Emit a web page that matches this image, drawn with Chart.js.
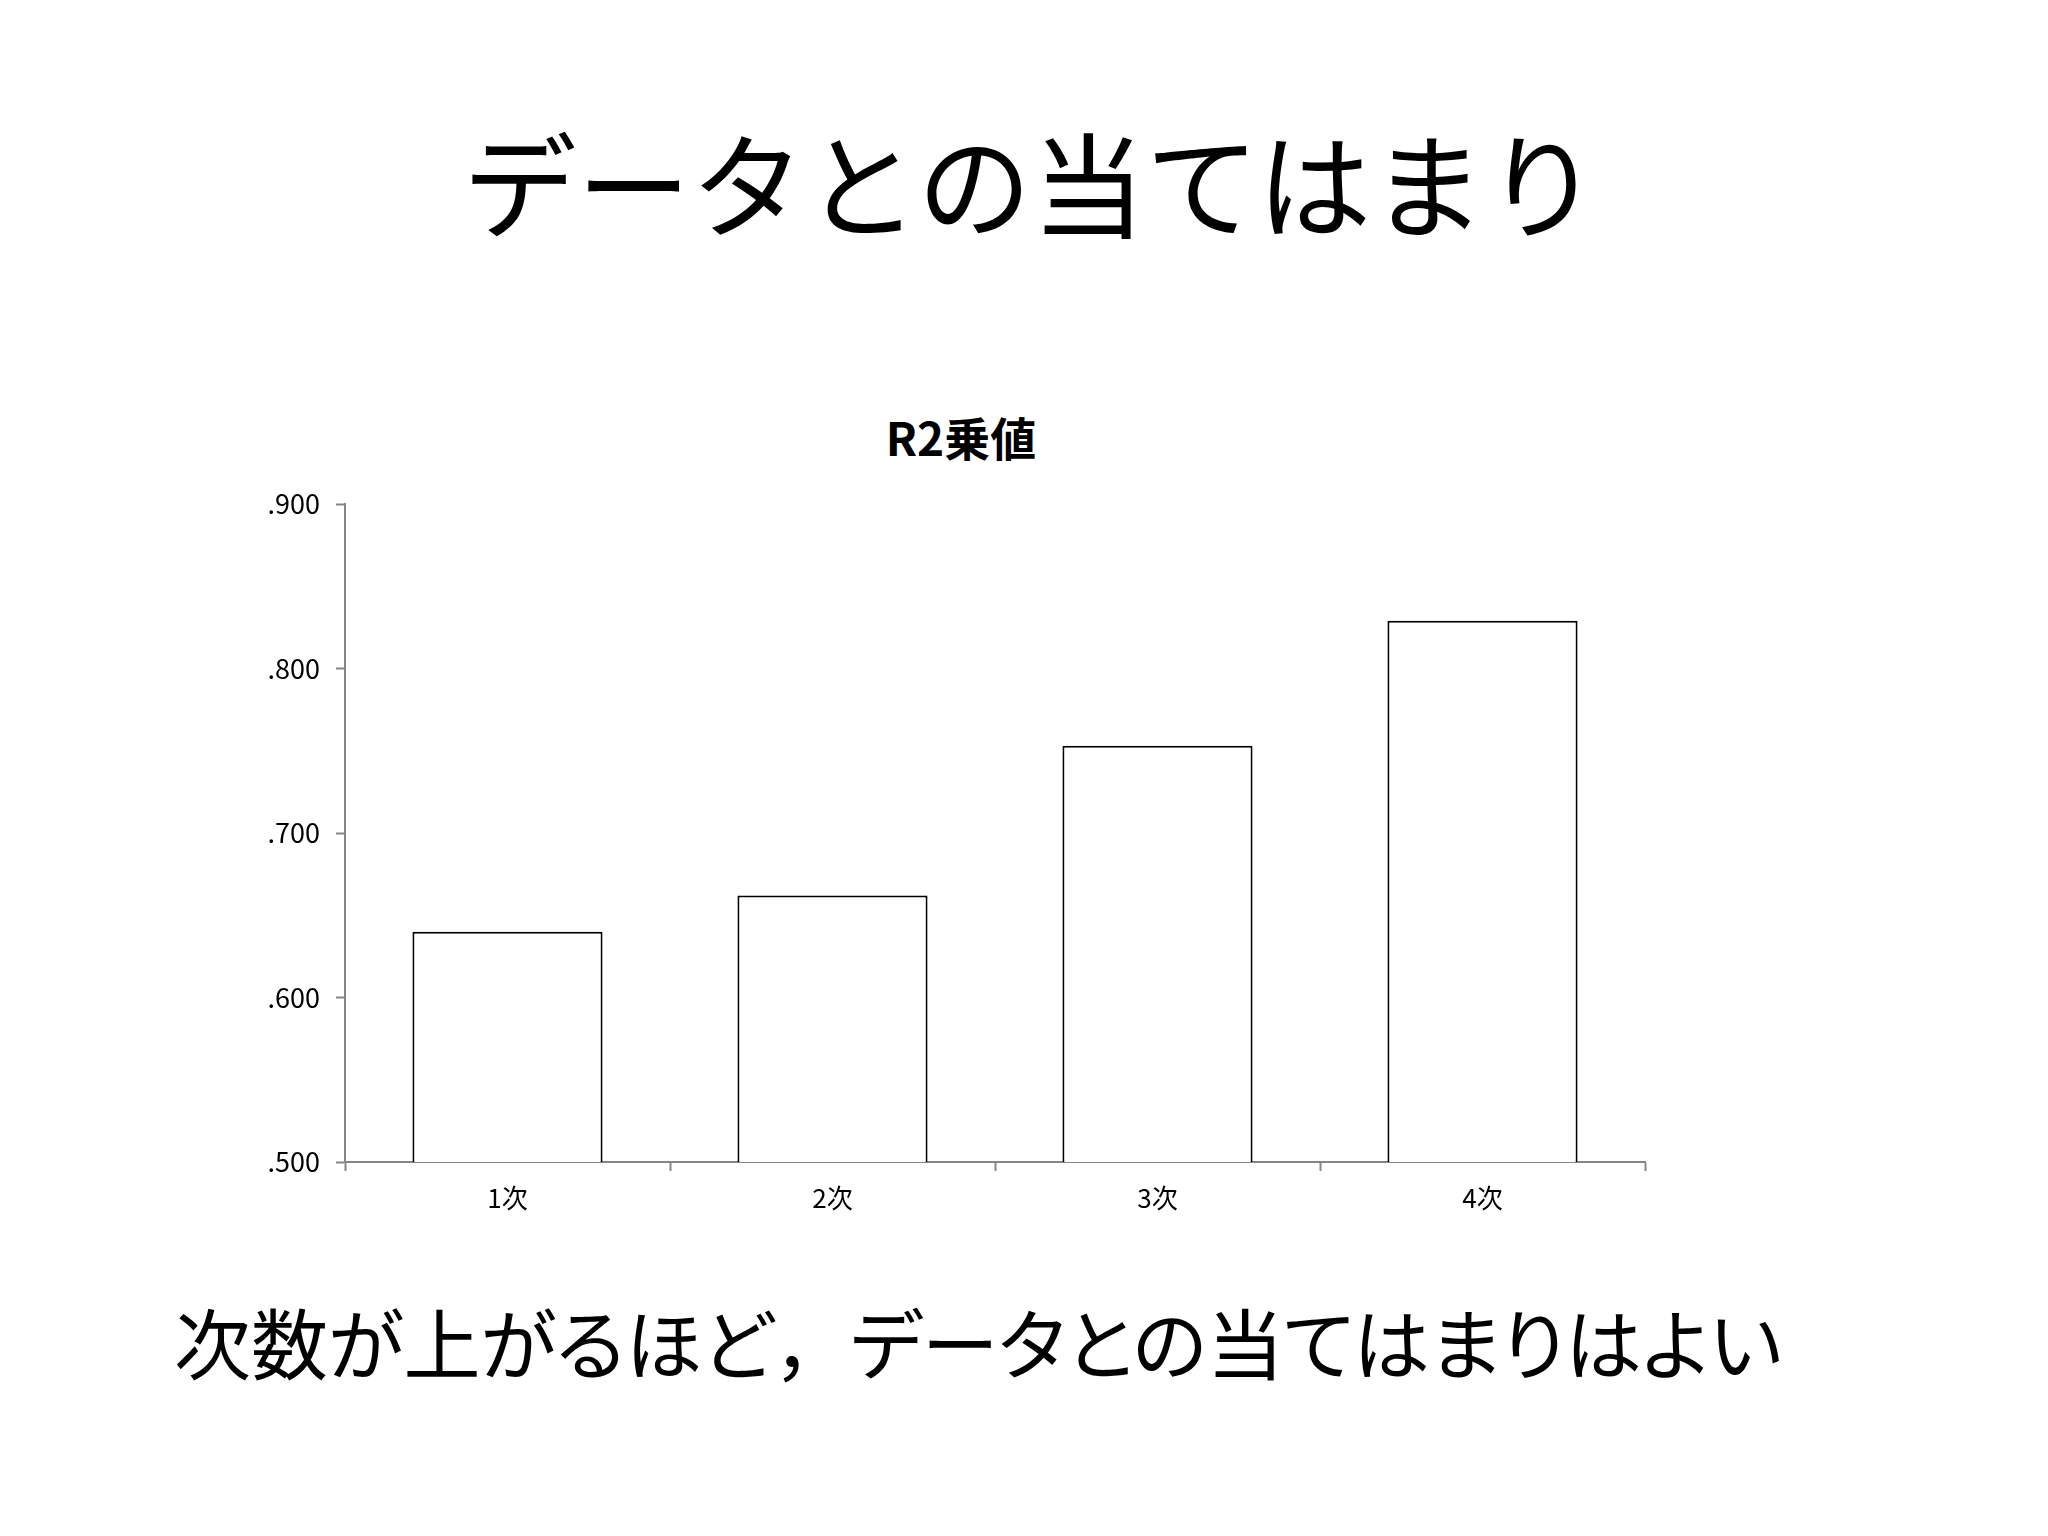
<!DOCTYPE html>
<html lang="ja">
<head>
<meta charset="utf-8">
<script src="https://cdn.jsdelivr.net/npm/chart.js@4/dist/chart.umd.min.js"></script>
<style>
    html, body {
        margin: 0;
        padding: 0;
        background: #ffffff;
    }
    body {
        width: 2048px;
        height: 1536px;
        position: relative;
        overflow: hidden;
        font-family: "Noto Sans CJK JP", sans-serif;
        color: #000000;
    }
    #heading {
        position: absolute;
        left: 0;
        width: 2062px;
        top: 110px;
        text-align: center;
        font-size: 114px;
        line-height: 140px;
        white-space: nowrap;
    }
    #chartTitle {
        position: absolute;
        left: 761px;
        width: 400px;
        top: 408px;
        text-align: center;
        font-size: 46px;
        font-weight: bold;
        line-height: 56px;
        white-space: nowrap;
    }
    #summary {
        position: absolute;
        left: 174px;
        top: 1295px;
        font-size: 77px;
        line-height: 92px;
        white-space: nowrap;
        font-feature-settings: "palt";
    }
    #summary .fw {
        font-feature-settings: normal;
    }
    #chartBox {
        position: absolute;
        left: 240px;
        top: 380px;
        width: 1442px;
        height: 860px;
    }
</style>
</head>
<body>
<div id="heading">データとの当てはまり</div>
<div id="chartTitle">R2乗値</div>
<div id="chartBox"><canvas id="r2Chart"></canvas></div>
<div id="summary">次数が上がるほど<span class="fw">，</span>データとの当てはまりはよい</div>

<script>
// Chart data
const chartTitle = 'R2乗値';
const categories = ['1次', '2次', '3次', '4次'];
const r2Values = [0.640, 0.662, 0.753, 0.829];
const yTicks = [0.5, 0.6, 0.7, 0.8, 0.9];

const axisColor = '#868686';
const fontFamily = '"Noto Sans CJK JP", sans-serif';

function formatTick(value) {
    // .900 style labels, no leading zero
    return Number(value).toFixed(3).replace(/^0/, '');
}

const ctx = document.getElementById('r2Chart').getContext('2d');

const r2Chart = new Chart(ctx, {
    type: 'bar',
    data: {
        labels: categories,
        datasets: [{
            label: chartTitle,
            data: r2Values,
            backgroundColor: '#ffffff',
            borderColor: '#000000',
            borderWidth: 2,
            categoryPercentage: 1.0,
            barPercentage: 0.585
        }]
    },
    options: {
        responsive: true,
        maintainAspectRatio: false,
        animation: false,
        devicePixelRatio: 1,
        layout: {
            padding: { left: 0, right: 37, top: 124, bottom: 0 }
        },
        scales: {
            x: {
                grid: {
                    offset: true,
                    drawOnChartArea: false,
                    drawTicks: true,
                    tickLength: 9,
                    tickWidth: 2,
                    color: axisColor
                },
                border: { color: axisColor, width: 2 },
                ticks: {
                    color: '#000000',
                    padding: 12,
                    font: { family: fontFamily, size: 26 }
                },
                afterFit: function(scale) {
                    scale.height = 78;
                }
            },
            y: {
                min: 0.5,
                max: 0.9,
                afterBuildTicks: function(scale) {
                    scale.ticks = yTicks.map(v => ({ value: v }));
                },
                grid: {
                    drawOnChartArea: false,
                    drawTicks: true,
                    tickLength: 9,
                    tickWidth: 2,
                    color: axisColor
                },
                border: { color: axisColor, width: 2 },
                ticks: {
                    color: '#000000',
                    padding: 16,
                    font: { family: fontFamily, size: 27 },
                    callback: function(value) {
                        return formatTick(value);
                    }
                },
                afterFit: function(scale) {
                    scale.width = 105;
                }
            }
        },
        plugins: {
            legend: { display: false },
            tooltip: { enabled: false },
            title: { display: false }
        }
    }
});
</script>
</body>
</html>
